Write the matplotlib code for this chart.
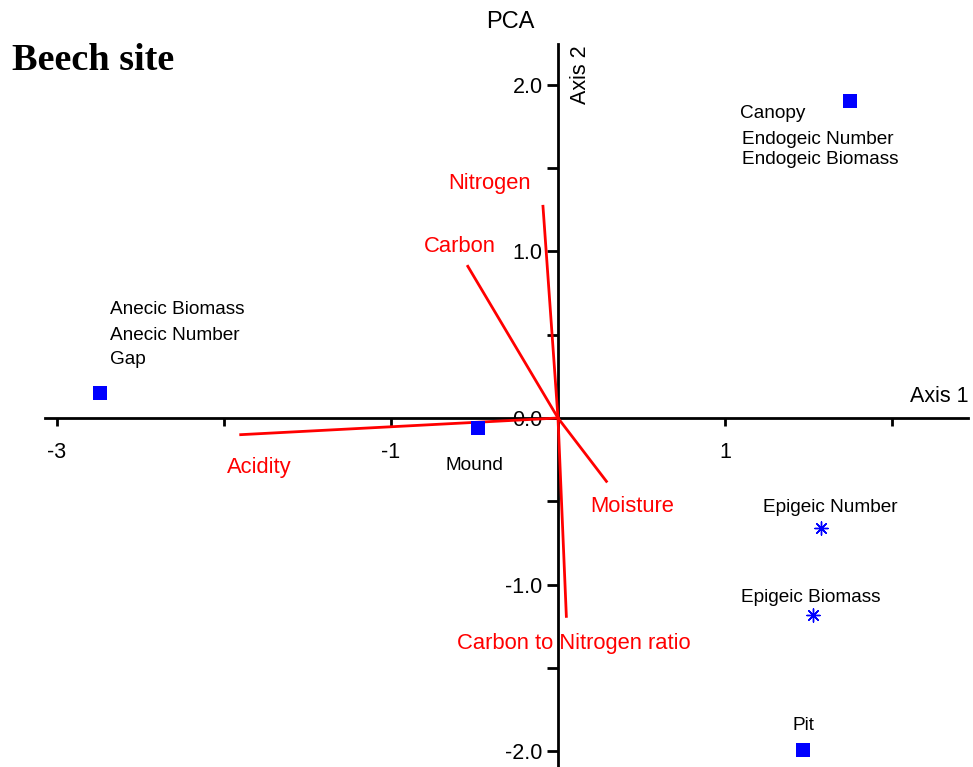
import matplotlib
matplotlib.use("Agg")
import matplotlib.pyplot as plt
import numpy as np

# ---- data ----
site_names = ["Gap", "Mound", "Canopy", "Pit"]
site_x = [-2.74, -0.48, 1.75, 1.47]
site_y = [0.15, -0.06, 1.90, -1.99]

species_names = ["Epigeic Number", "Epigeic Biomass"]
species_x = [1.575, 1.527]
species_y = [-0.66, -1.18]

env_names = ["Acidity", "Nitrogen", "Carbon", "Moisture", "Carbon to Nitrogen ratio"]
env_x = [-1.90, -0.09, -0.54, 0.29, 0.05]
env_y = [-0.10, 1.27, 0.91, -0.38, -1.19]

xtick_vals = [-3, -2, -1, 1, 2]
xtick_labels = ["-3", "", "-1", "1", ""]
ytick_vals = [-2.0, -1.5, -1.0, -0.5, 0.0, 0.5, 1.0, 1.5, 2.0]
ytick_labels = ["-2.0", "", "-1.0", "", "0.0", "", "1.0", "", "2.0"]

# ---- pixel helpers for text placement ----
X0, XU = 558.0, 167.0
Y0, YU = 418.0, 166.7
def dx(px):
    return (px - X0) / XU
def dy(py):
    return (Y0 - py) / YU

plt.rcParams['font.family'] = ['Liberation Sans', 'DejaVu Sans']

fig = plt.figure(figsize=(9.73, 7.67), dpi=100)
ax = fig.add_axes([0, 0, 1, 1])
ax.set_xlim(dx(0), dx(973))
ax.set_ylim(dy(767), dy(0))
ax.patch.set_alpha(0)

for s in ["top", "right"]:
    ax.spines[s].set_visible(False)
ax.spines["left"].set_position(("data", 0))
ax.spines["bottom"].set_position(("data", 0))
ax.spines["left"].set_bounds(dy(767), dy(44))
ax.spines["bottom"].set_bounds(dx(45), dx(968))
for s in ["left", "bottom"]:
    ax.spines[s].set_linewidth(2)
    ax.spines[s].set_zorder(1)

ax.set_xticks(xtick_vals)
ax.set_xticklabels(xtick_labels)
ax.set_yticks(ytick_vals)
ax.set_yticklabels(ytick_labels)
ax.tick_params(axis="x", direction="out", length=6, width=2, pad=11, labelsize=15.5)
ax.tick_params(axis="y", direction="out", length=8, width=2, pad=3, labelsize=15.5)

# environmental vectors
for name, ex, ey in zip(env_names, env_x, env_y):
    ax.plot([0, ex], [0, ey], color="red", lw=2, zorder=2)

env_label_pos = {
    "Acidity": (259, 467),
    "Nitrogen": (489, 184),
    "Carbon": (460, 246),
    "Moisture": (632, 506),
    "Carbon to Nitrogen ratio": (574, 643),
}
for name in env_names:
    px, py = env_label_pos[name]
    ax.text(dx(px), dy(py), name, color="red", fontsize=15.8, ha="center", va="center")

# site squares
ax.scatter(site_x, site_y, marker="s", s=100, color="#0000ff", zorder=3, linewidths=0)
# species asterisks
ax.scatter(species_x, species_y, marker=(8, 2, 0), s=90, color="#0000ff", lw=1, zorder=3)

# black labels
black_left = [
    ("Anecic Biomass", 110, 310),
    ("Anecic Number", 110, 335),
    ("Gap", 110, 360),
    ("Canopy", 740, 114),
    ("Endogeic Number", 742, 140),
    ("Endogeic Biomass", 742, 160),
]
for t, px, py in black_left:
    ax.text(dx(px), dy(py), t, fontsize=13.7, ha="left", va="center", color="black")
black_center = [
    ("Mound", 474, 465),
    ("Epigeic Number", 830, 508),
    ("Epigeic Biomass", 811, 597),
    ("Pit", 803, 726),
]
for t, px, py in black_center:
    ax.text(dx(px), dy(py), t, fontsize=13.7, ha="center", va="center", color="black")

# axis names and titles
ax.text(dx(968), dy(397), "Axis 1", fontsize=15.5, ha="right", va="center")
ax.text(dx(580), dy(75), "Axis 2", fontsize=15.5, ha="center", va="center", rotation=90)
fig.text(510 / 973, 1 - 22 / 767, "PCA", fontsize=17, ha="center", va="center")
fig.text(12 / 973, 1 - 60 / 767, "Beech site", fontsize=27.5, fontweight="bold",
         family=["Liberation Serif", "DejaVu Serif"], ha="left", va="center")

fig.savefig("out.png", dpi=100)
